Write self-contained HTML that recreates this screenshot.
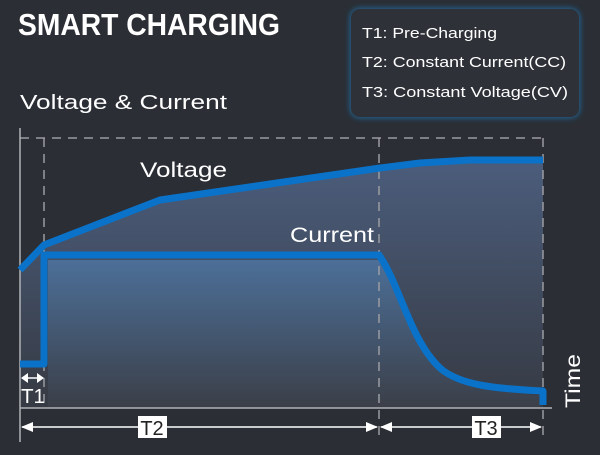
<!DOCTYPE html>
<html><head><style>
body{margin:0;width:600px;height:450px;background:#2b2e35;overflow:hidden;font-family:"Liberation Sans",sans-serif;}
</style></head><body>
<svg width="600" height="450" viewBox="0 0 600 450" xmlns="http://www.w3.org/2000/svg">
<defs>
<linearGradient id="gv" x1="0" y1="0" x2="0" y2="1">
<stop offset="0" stop-color="#4b5d7c"/><stop offset="1" stop-color="#363a43"/>
</linearGradient>
<linearGradient id="gc" x1="0" y1="0" x2="0" y2="1">
<stop offset="0" stop-color="#4c6f98"/><stop offset="1" stop-color="#3b3f48"/>
</linearGradient>
<filter id="glow" x="-20%" y="-20%" width="140%" height="140%"><feGaussianBlur stdDeviation="3"/></filter>
</defs>
<text x="18" y="35" fill="#fff" font-size="31" font-weight="bold" textLength="262" lengthAdjust="spacingAndGlyphs">SMART CHARGING</text>
<rect x="350" y="8" width="230" height="110" rx="10" fill="#1d7fc0" filter="url(#glow)" opacity="0.7"/>
<rect x="351" y="9" width="228" height="108" rx="9" fill="#2e3138"/>
<text x="362" y="38" fill="#fff" font-size="15" textLength="135" lengthAdjust="spacingAndGlyphs">T1: Pre-Charging</text>
<text x="362" y="67" fill="#fff" font-size="15" textLength="204" lengthAdjust="spacingAndGlyphs">T2: Constant Current(CC)</text>
<text x="362" y="97" fill="#fff" font-size="15" textLength="206" lengthAdjust="spacingAndGlyphs">T3: Constant Voltage(CV)</text>
<text x="20" y="109" fill="#fff" font-size="20" textLength="207" lengthAdjust="spacingAndGlyphs">Voltage &amp; Current</text>
<path d="M20,270 L44,245 L160,200 L380,168 L420,163 L470,160 L543,160 L543,408 L20,408Z" fill="url(#gv)"/>
<path d="M48,260 L379,260 C400,290 410,340 440,372 C460,390 500,392 540,395 L540,408 L48,408Z" fill="url(#gc)"/>
<g stroke="#9a9ca2" stroke-width="1.5" stroke-dasharray="9,7" fill="none">
<line x1="20" y1="138" x2="545" y2="138"/>
<line x1="44" y1="138" x2="44" y2="405"/>
<line x1="379" y1="138" x2="379" y2="440"/>
<line x1="543" y1="138" x2="543" y2="440"/>
</g>
<line x1="20" y1="128" x2="20" y2="442" stroke="#b0b2b6" stroke-width="1.5"/>
<line x1="20" y1="408" x2="552" y2="408" stroke="#b0b2b6" stroke-width="1.5"/>
<polyline points="20,270 44,245 160,200 380,168 420,163 470,160 543,160" fill="none" stroke="#0a72c8" stroke-width="7" stroke-linejoin="round"/>
<path d="M20,364 L44,364 L44,255 L379,255 C400,285 410,340 440,368 C460,386 500,389 543,391 L543,405" fill="none" stroke="#0a72c8" stroke-width="7" stroke-linejoin="round"/>
<text x="140" y="177" fill="#fff" font-size="21" textLength="87" lengthAdjust="spacingAndGlyphs">Voltage</text>
<text x="290" y="242" fill="#fff" font-size="21" textLength="84" lengthAdjust="spacingAndGlyphs">Current</text>
<g stroke="#fff" stroke-width="1.5" fill="#fff">
<line x1="22" y1="378" x2="43" y2="378"/>
<path d="M21,378 l7,-5 v10z M44,378 l-7,-5 v10z" stroke="none"/>
<line x1="22" y1="427" x2="377" y2="427"/>
<path d="M21,427 l12,-5 v10z M378,427 l-12,-5 v10z" stroke="none"/>
<line x1="381" y1="427" x2="541" y2="427"/>
<path d="M380,427 l12,-5 v10z M542,427 l-12,-5 v10z" stroke="none"/>
</g>
<text x="21" y="403" fill="#fff" font-size="20" textLength="24" lengthAdjust="spacingAndGlyphs">T1</text>
<rect x="138" y="416" width="29" height="22" fill="#fff"/>
<text x="152" y="435" fill="#222" font-size="20" text-anchor="middle">T2</text>
<rect x="472" y="416" width="29" height="22" fill="#fff"/>
<text x="486" y="435" fill="#222" font-size="20" text-anchor="middle">T3</text>
<text transform="translate(580,408) rotate(-90)" fill="#fff" font-size="21" textLength="54" lengthAdjust="spacingAndGlyphs">Time</text>
</svg>
</body></html>
